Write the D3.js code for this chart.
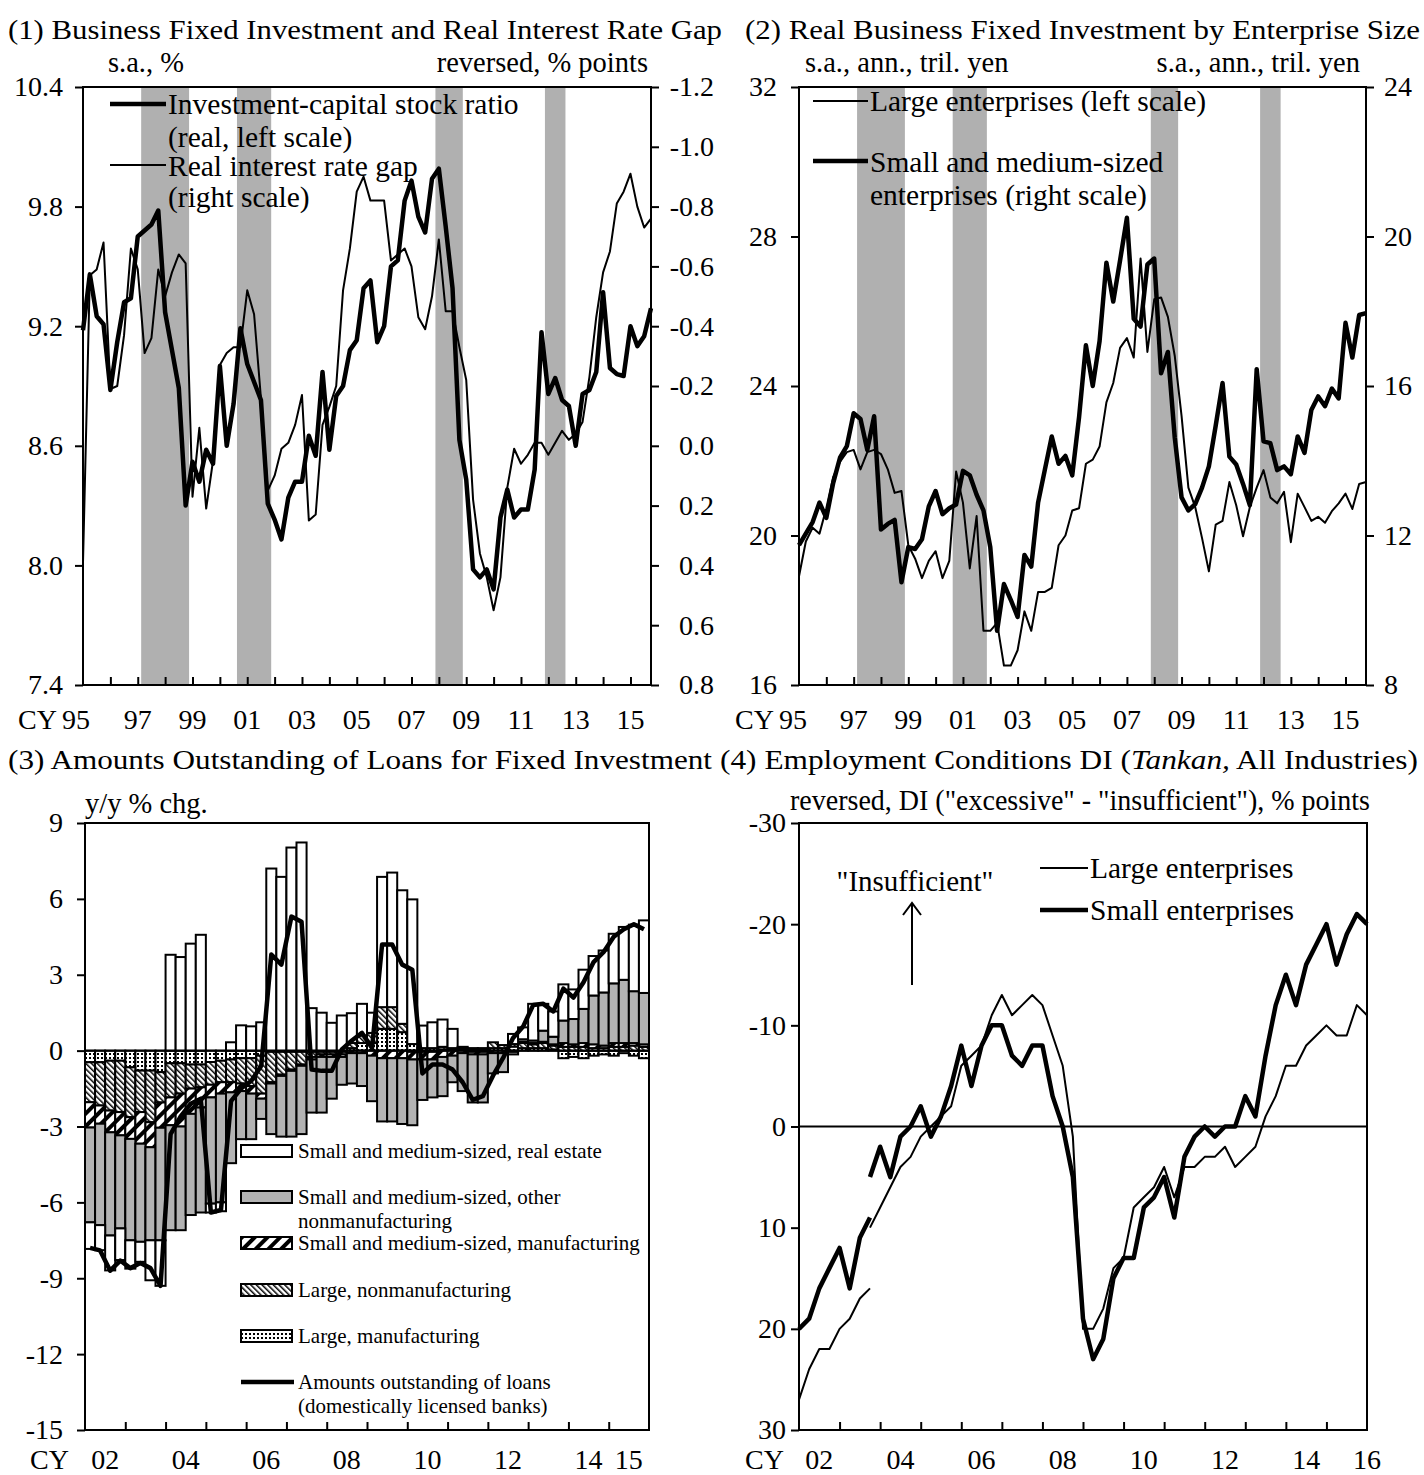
<!DOCTYPE html>
<html><head><meta charset="utf-8">
<script src="https://d3js.org/d3.v7.min.js"></script>
<style>
  body { margin: 0; background: #fff; }
  svg { font-family: "Liberation Serif", "Times New Roman", serif; }
</style>
</head>
<body>
<div id="chart"></div>
<script>
// ---------------- data ----------------
// (1) quarterly, 1995Q1 .. 2015Q4
var invCapRatio = [9.18,9.46,9.25,9.21,8.88,9.12,9.32,9.34,9.65,9.68,
  9.71,9.78,9.27,9.08,8.89,8.30,8.52,8.42,8.58,8.51,
  9.00,8.60,8.81,9.19,9.01,8.92,8.83,8.31,8.23,8.13,
  8.34,8.42,8.42,8.65,8.55,8.97,8.58,8.85,8.90,9.08,
  9.13,9.39,9.43,9.12,9.20,9.50,9.53,9.83,9.93,9.75,
  9.67,9.94,9.99,9.70,9.39,8.63,8.43,7.98,7.94,7.98,
  7.88,8.24,8.38,8.24,8.28,8.28,8.48,9.17,8.86,8.94,
  8.83,8.80,8.60,8.86,8.88,8.97,9.37,8.99,8.96,8.95,
  9.20,9.10,9.15,9.29];
var rateGap = [0.39,-0.57,-0.59,-0.68,-0.19,-0.20,-0.37,-0.66,-0.59,-0.31,
  -0.36,-0.59,-0.50,-0.58,-0.64,-0.61,0.17,-0.06,0.21,0.05,
  -0.27,-0.31,-0.33,-0.33,-0.52,-0.44,-0.16,0.15,0.10,0.01,
  -0.01,-0.07,-0.17,0.25,0.23,-0.07,-0.13,-0.20,-0.52,-0.66,
  -0.85,-0.90,-0.82,-0.82,-0.82,-0.62,-0.64,-0.66,-0.60,-0.43,
  -0.39,-0.50,-0.69,-0.45,-0.45,-0.33,-0.22,0.18,0.36,0.44,
  0.55,0.44,0.14,0.01,0.06,0.03,-0.01,-0.01,0.03,-0.01,
  -0.05,-0.02,-0.04,-0.08,-0.23,-0.43,-0.58,-0.65,-0.81,-0.85,
  -0.91,-0.80,-0.73,-0.76];

// (2) quarterly, 1995Q1 .. 2015Q4
var largeInv = [18.91,19.84,20.21,20.05,20.73,21.56,21.97,22.23,22.29,21.77,
  22.23,22.29,22.18,21.77,21.14,21.19,19.74,19.38,18.86,19.32,
  19.58,18.86,19.32,21.71,20.88,19.12,20.52,17.45,17.45,17.66,
  16.52,16.52,16.93,17.97,17.45,18.49,18.49,18.60,19.74,20.00,
  20.67,20.73,21.92,22.03,22.38,23.56,24.08,25.02,25.28,24.76,
  27.41,24.91,26.32,26.37,25.85,24.81,23.20,21.28,20.76,19.93,
  19.04,20.29,20.39,21.43,20.81,19.98,20.76,21.28,21.75,21.02,
  20.86,21.17,19.82,21.12,20.76,20.39,20.50,20.34,20.65,20.86,
  21.12,20.71,21.38,21.43];
var smeInv = [11.74,12.05,12.36,12.88,12.47,13.40,14.08,14.39,15.27,15.12,
  14.29,15.19,12.16,12.31,12.42,10.75,11.69,11.64,11.90,12.78,
  13.19,12.57,12.73,12.83,13.73,13.61,13.09,12.67,11.69,9.45,
  10.70,10.28,9.82,11.48,11.17,12.88,13.77,14.65,13.92,14.13,
  13.61,15.17,17.09,16.00,17.20,19.30,18.26,19.36,20.50,17.80,
  17.59,19.25,19.41,16.34,16.91,14.63,13.02,12.67,12.84,13.28,
  13.85,14.94,16.08,14.11,13.90,13.38,12.81,16.45,14.52,14.47,
  13.75,13.85,13.64,14.65,14.21,15.36,15.72,15.46,15.93,15.67,
  17.69,16.76,17.90,17.95];
var recessions = [[1997.125, 1998.875], [2000.625, 2001.875], [2007.875, 2008.875], [2011.875, 2012.625]];

// (3) quarterly, 2002Q1 .. 2015Q4, contributions (% points)
var lgMfg = [-0.46,-0.46,-0.40,-0.40,-0.66,-0.79,-0.79,-0.85,-0.50,-0.50,-0.55,-0.55,-0.45,-0.40,
  -0.35,-0.30,-0.30,-0.20,-0.05,-0.05,-0.05,-0.05,-0.05,-0.05,-0.05,-0.05,0.10,0.30,
  0.30,0.86,0.86,0.73,0.26,0.10,0.10,0.05,0.05,0.05,0.05,0.05,0.10,0.10,0.16,0.10,
  0.10,0.10,0.05,-0.30,-0.25,-0.30,-0.20,-0.15,-0.20,-0.10,-0.20,-0.30];
var lgNonMfg = [-1.58,-1.71,-1.97,-2.03,-1.97,-1.64,-2.04,-1.20,-1.35,-1.20,-0.95,-0.90,-0.90,-0.85,
  -0.90,-1.00,-1.10,-1.50,-1.20,-0.90,-0.70,-0.50,-0.20,-0.10,-0.10,-0.10,0.20,0.30,
  0.40,0.86,0.86,0.33,-0.05,-0.05,-0.05,0.10,0.05,0.05,-0.05,-0.05,0.23,0.12,0.10,0.20,
  0.15,0.20,0.15,0.15,0.15,0.15,0.10,0.10,0.15,0.15,0.20,0.15];
var smMfg = [-1.00,-0.72,-0.86,-0.92,-0.86,-1.25,-0.99,-1.00,-1.10,-1.30,-1.00,-0.80,-0.50,-0.45,
  -0.40,-0.30,-0.30,-0.20,-0.05,-0.05,-0.05,-0.05,-0.10,-0.10,-0.10,-0.10,-0.10,-0.10,
  -0.20,-0.30,-0.30,-0.30,-0.30,-0.30,-0.30,-0.25,-0.20,-0.10,-0.10,-0.10,-0.10,-0.10,-0.05,0.05,
  0.05,0.05,0.05,0.15,0.10,0.15,0.15,0.10,0.15,0.15,0.10,0.10];
var smOtherNonMfg = [-3.75,-4.01,-4.08,-3.68,-4.01,-3.88,-3.68,-4.45,-4.15,-4.10,-4.00,-4.15,-4.20,-4.30,
  -2.80,-1.90,-1.80,-0.80,-2.00,-2.40,-2.60,-2.70,-2.10,-2.20,-1.65,-1.10,-1.20,-1.30,
  -1.80,-2.50,-2.50,-2.60,-2.60,-1.60,-1.50,-1.55,-1.05,-1.50,-1.90,-1.90,-0.80,-0.75,-0.10,0.10,
  0.10,0.44,0.30,0.89,1.00,1.35,1.93,2.10,2.36,2.50,2.05,2.03];
var smRealEstate = [-1.05,-0.99,-1.38,-1.25,-1.12,-0.79,-1.58,-1.80,3.79,3.70,4.23,4.58,-0.35,-0.35,
  0.33,1.00,0.96,1.12,7.20,6.87,8.03,8.23,1.68,1.50,1.10,1.39,1.18,1.25,
  0.80,5.15,5.32,5.28,5.72,0.89,1.02,1.08,0.76,0.05,0.05,0.05,0.00,0.00,0.40,0.47,
  1.45,1.06,1.00,1.43,1.17,1.55,1.56,1.66,1.96,2.09,2.63,2.87];
var loansTotal = [-7.8,-7.9,-8.7,-8.3,-8.6,-8.4,-8.6,-9.3,-3.3,-2.6,-2.1,-1.9,-6.4,-6.3,
  -2.0,-1.5,-1.2,-0.6,3.8,3.4,5.3,5.1,-0.75,-0.8,-0.8,0.05,0.4,0.7,
  0.1,4.2,4.2,3.4,3.2,-0.9,-0.55,-0.55,-0.75,-1.25,-1.95,-1.8,-1.0,-0.3,0.5,0.95,
  1.8,1.85,1.55,2.45,2.1,2.7,3.5,3.9,4.5,4.8,5.0,4.8];

// (4) Tankan employment DI, quarterly; old basis 2002Q1..2003Q4, new basis 2003Q4..2016Q1
var largeOld = [27,24,22,22,20,19,17,16];
var smallOld = [20,19,16,14,12,16,11,9];
var largeNew = [10, 8,6,4,3, 1,0,-1,-2, -6,-7,-8,-11, -13,-11,-12,-13, -12,-9,-6,1,
  20,20,18,14, 13,8,7,6, 4,7,4,4, 3,3,2,4, 3,2,-1,-3, -6,-6,-8,-9, -10,-9,-9,-12, -11];
var smallNew = [5, 2,5,1,0, -2,1,-1,-4, -8,-4,-8,-10, -10,-7,-6,-8, -8,-3,0,5,
  19,23,21,15, 13,13,8,7, 5,9,3,1, 0,1,0,0, -3,-1,-7,-12, -15,-12,-16,-18, -20,-16,-19,-21, -20];

// tick labels
var p1LeftTicks = [7.4, 8.0, 8.6, 9.2, 9.8, 10.4];
var p1RightTicks = [-1.2, -1.0, -0.8, -0.6, -0.4, -0.2, 0.0, 0.2, 0.4, 0.6, 0.8];
var p2LeftTicks = [16, 20, 24, 28, 32];
var p2RightTicks = [8, 12, 16, 20, 24];
var p3Ticks = [-15, -12, -9, -6, -3, 0, 3, 6, 9];
var p4Ticks = [-30, -20, -10, 0, 10, 20, 30];
var yearLabels95 = ["95","97","99","01","03","05","07","09","11","13","15"];
var yearLabels02 = ["02","04","06","08","10","12","14","15"];
var yearLabels02b = ["02","04","06","08","10","12","14","16"];

// ---------------- drawing ----------------
var FONT = '"Liberation Serif", "Times New Roman", serif';
var svg = d3.select("#chart").append("svg").attr("width", 1424).attr("height", 1475);
var plain = function (d) { return String(d); };

var defs = svg.append("defs");
var pS = defs.append("pattern").attr("id", "pStripe").attr("patternUnits", "userSpaceOnUse")
  .attr("width", 9).attr("height", 9).attr("patternTransform", "rotate(45)");
pS.append("rect").attr("width", 9).attr("height", 9).attr("fill", "#fff");
pS.append("rect").attr("width", 4).attr("height", 9).attr("fill", "#000");
var pH = defs.append("pattern").attr("id", "pHatch").attr("patternUnits", "userSpaceOnUse")
  .attr("width", 4).attr("height", 4).attr("patternTransform", "rotate(-45)");
pH.append("rect").attr("width", 4).attr("height", 4).attr("fill", "#fff");
pH.append("rect").attr("width", 1.5).attr("height", 4).attr("fill", "#000");
var pD = defs.append("pattern").attr("id", "pDots").attr("patternUnits", "userSpaceOnUse")
  .attr("width", 4).attr("height", 4);
pD.append("rect").attr("width", 4).attr("height", 4).attr("fill", "#fff");
pD.append("rect").attr("x", 1).attr("y", 1).attr("width", 2).attr("height", 2).attr("fill", "#000");

function txt(x, y, s, size, anchor) {
  return svg.append("text").attr("x", x).attr("y", y).attr("font-size", size)
    .attr("text-anchor", anchor || "start").attr("fill", "#000").text(s);
}

function styleAxis(a) {
  a.select(".domain").remove();
  a.selectAll("line").attr("stroke", "#000").attr("stroke-width", 2);
  a.selectAll("text").attr("font-family", FONT).attr("font-size", 28).attr("fill", "#000");
  return a;
}

function frame(L, R, T, B) {
  svg.append("rect").attr("x", L).attr("y", T).attr("width", R - L).attr("height", B - T)
    .attr("fill", "none").attr("stroke", "#000").attr("stroke-width", 2);
}

function yearTicks(x, B, from, to) {
  var vals = d3.range(from, to + 1);
  var a = svg.append("g").attr("transform", "translate(0," + B + ")")
    .call(d3.axisBottom(x).tickValues(vals).tickSize(-8).tickFormat(""));
  styleAxis(a);
}

var qLine = function (x, y, t0) {
  return d3.line().x(function (d, i) { return x(t0 + i * 0.25); }).y(function (d) { return y(d); });
};

var SUB = 28.5, LEG = 29.5;

// ---------- panel 1 ----------
(function () {
  var L = 83, R = 651, T = 87, B = 685;
  var x = d3.scaleLinear().domain([1995, 2015.75]).range([L, R]);
  var yL = d3.scaleLinear().domain([7.4, 10.4]).range([B, T]);
  var yR = d3.scaleLinear().domain([0.8, -1.2]).range([B, T]);

  svg.selectAll(".band1").data(recessions).enter().append("rect")
    .attr("x", function (d) { return x(d[0]); }).attr("width", function (d) { return x(d[1]) - x(d[0]); })
    .attr("y", T).attr("height", B - T).attr("fill", "#b0b0b0");

  svg.append("path").datum(rateGap).attr("d", qLine(x, yR, 1995)).attr("fill", "none")
    .attr("stroke", "#000").attr("stroke-width", 2).attr("stroke-linejoin", "round");
  svg.append("path").datum(invCapRatio).attr("d", qLine(x, yL, 1995)).attr("fill", "none")
    .attr("stroke", "#000").attr("stroke-width", 4.5).attr("stroke-linejoin", "round");

  frame(L, R, T, B);
  styleAxis(svg.append("g").attr("transform", "translate(" + L + ",0)")
    .call(d3.axisLeft(yL).tickValues(p1LeftTicks).tickFormat(function (d) { return d.toFixed(1); }).tickSize(8).tickPadding(12)));
  var ar = styleAxis(svg.append("g").attr("transform", "translate(" + R + ",0)")
    .call(d3.axisRight(yR).tickValues(p1RightTicks).tickFormat(function (d) { return d.toFixed(1); }).tickSize(8)));
  ar.selectAll("text").attr("text-anchor", "end").attr("x", 714 - R);
  yearTicks(x, B, 1996, 2015);

  txt(18, 729, "CY", 28);
  yearLabels95.forEach(function (s, k) {
    var yr = 1995 + 2 * k;
    if (k === 0) txt(62, 729, s, 28);
    else txt(x(yr), 729, s, 28, "middle");
  });

  txt(8, 39, "(1) Business Fixed Investment and Real Interest Rate Gap", 28).attr("textLength", 714).attr("lengthAdjust", "spacingAndGlyphs");
  txt(108, 72, "s.a., %", SUB);
  txt(648, 72, "reversed, % points", SUB, "end");

  svg.append("line").attr("x1", 110).attr("x2", 166).attr("y1", 104).attr("y2", 104).attr("stroke", "#000").attr("stroke-width", 4.5);
  txt(168, 114, "Investment-capital stock ratio", LEG);
  txt(168, 147, "(real, left scale)", LEG);
  svg.append("line").attr("x1", 110).attr("x2", 166).attr("y1", 165).attr("y2", 165).attr("stroke", "#000").attr("stroke-width", 2);
  txt(168, 176, "Real interest rate gap", LEG);
  txt(168, 207, "(right scale)", LEG);
})();

// ---------- panel 2 ----------
(function () {
  var L = 799, R = 1366, T = 87, B = 685;
  var x = d3.scaleLinear().domain([1995, 2015.75]).range([L, R]);
  var yL = d3.scaleLinear().domain([16, 32]).range([B, T]);
  var yR = d3.scaleLinear().domain([8, 24]).range([B, T]);

  svg.selectAll(".band2").data(recessions).enter().append("rect")
    .attr("x", function (d) { return x(d[0]); }).attr("width", function (d) { return x(d[1]) - x(d[0]); })
    .attr("y", T).attr("height", B - T).attr("fill", "#b0b0b0");

  svg.append("path").datum(largeInv).attr("d", qLine(x, yL, 1995)).attr("fill", "none")
    .attr("stroke", "#000").attr("stroke-width", 2).attr("stroke-linejoin", "round");
  svg.append("path").datum(smeInv).attr("d", qLine(x, yR, 1995)).attr("fill", "none")
    .attr("stroke", "#000").attr("stroke-width", 4.5).attr("stroke-linejoin", "round");

  frame(L, R, T, B);
  styleAxis(svg.append("g").attr("transform", "translate(" + L + ",0)")
    .call(d3.axisLeft(yL).tickValues(p2LeftTicks).tickFormat(plain).tickSize(8).tickPadding(14)));
  styleAxis(svg.append("g").attr("transform", "translate(" + R + ",0)")
    .call(d3.axisRight(yR).tickValues(p2RightTicks).tickFormat(plain).tickSize(8).tickPadding(10)));
  yearTicks(x, B, 1996, 2015);

  txt(735, 729, "CY", 28);
  yearLabels95.forEach(function (s, k) {
    var yr = 1995 + 2 * k;
    if (k === 0) txt(779, 729, s, 28);
    else txt(x(yr), 729, s, 28, "middle");
  });

  txt(745, 39, "(2) Real Business Fixed Investment by Enterprise Size", 28).attr("textLength", 675).attr("lengthAdjust", "spacingAndGlyphs");
  txt(805, 72, "s.a., ann., tril. yen", SUB);
  txt(1360, 72, "s.a., ann., tril. yen", SUB, "end");

  svg.append("line").attr("x1", 813).attr("x2", 868).attr("y1", 101).attr("y2", 101).attr("stroke", "#000").attr("stroke-width", 2);
  txt(870, 111, "Large enterprises (left scale)", LEG);
  svg.append("line").attr("x1", 813).attr("x2", 868).attr("y1", 161).attr("y2", 161).attr("stroke", "#000").attr("stroke-width", 4.5);
  txt(870, 172, "Small and medium-sized", LEG);
  txt(870, 205, "enterprises (right scale)", LEG);
})();

// ---------- panel 3 ----------
(function () {
  var L = 85, R = 649, T = 823, B = 1430;
  var n = loansTotal.length;
  var xb = d3.scaleBand().domain(d3.range(n)).range([L, R]).padding(0);
  var y = d3.scaleLinear().domain([-15, 9]).range([B, T]);
  var xt = d3.scaleLinear().domain([2002, 2016]).range([L, R]);

  var rows = d3.range(n).map(function (i) {
    return { i: i, lmf: lgMfg[i], lnm: lgNonMfg[i], smf: smMfg[i], onm: smOtherNonMfg[i], re: smRealEstate[i] };
  });
  var keys = ["lmf", "lnm", "smf", "onm", "re"];
  var fills = { lmf: "url(#pDots)", lnm: "url(#pHatch)", smf: "url(#pStripe)", onm: "#b3b3b3", re: "#fff" };
  var series = d3.stack().keys(keys).offset(d3.stackOffsetDiverging)(rows);

  series.forEach(function (s) {
    svg.append("g").selectAll("rect").data(s.filter(function (d) { return d[0] !== d[1]; })).enter().append("rect")
      .attr("x", function (d) { return xb(d.data.i); })
      .attr("width", xb.bandwidth())
      .attr("y", function (d) { return y(Math.max(d[0], d[1])); })
      .attr("height", function (d) { return Math.abs(y(d[0]) - y(d[1])); })
      .attr("fill", fills[s.key]).attr("stroke", "#000").attr("stroke-width", 2);
  });

  svg.append("line").attr("x1", L).attr("x2", R).attr("y1", y(0)).attr("y2", y(0)).attr("stroke", "#000").attr("stroke-width", 2);

  svg.append("path").datum(loansTotal)
    .attr("d", d3.line().x(function (d, i) { return xb(i) + xb.bandwidth() / 2; }).y(function (d) { return y(d); }))
    .attr("fill", "none").attr("stroke", "#000").attr("stroke-width", 4.5).attr("stroke-linejoin", "round");

  frame(L, R, T, B);
  styleAxis(svg.append("g").attr("transform", "translate(" + L + ",0)")
    .call(d3.axisLeft(y).tickValues(p3Ticks).tickFormat(plain).tickSize(8).tickPadding(14)));
  yearTicks(xt, B, 2003, 2015);

  txt(30, 1469, "CY", 28);
  yearLabels02.forEach(function (s, k) {
    var yr = k < 7 ? 2002 + 2 * k : 2015;
    txt(xt(yr + 0.5), 1469, s, 28, "middle");
  });

  txt(8, 769, "(3) Amounts Outstanding of Loans for Fixed Investment", 28).attr("textLength", 704).attr("lengthAdjust", "spacingAndGlyphs");
  txt(85, 813, "y/y % chg.", SUB);

  var leg = [
    { f: "#fff", t: ["Small and medium-sized, real estate"], y: 1151 },
    { f: "#b3b3b3", t: ["Small and medium-sized, other", "nonmanufacturing"], y: 1197 },
    { f: "url(#pStripe)", t: ["Small and medium-sized, manufacturing"], y: 1243 },
    { f: "url(#pHatch)", t: ["Large, nonmanufacturing"], y: 1290 },
    { f: "url(#pDots)", t: ["Large, manufacturing"], y: 1336 },
    { f: null, t: ["Amounts outstanding of loans", "(domestically licensed banks)"], y: 1382 }
  ];
  leg.forEach(function (e) {
    if (e.f) {
      svg.append("rect").attr("x", 241).attr("y", e.y - 6).attr("width", 51).attr("height", 12)
        .attr("fill", e.f).attr("stroke", "#000").attr("stroke-width", 2);
    } else {
      svg.append("line").attr("x1", 241).attr("x2", 294).attr("y1", e.y).attr("y2", e.y).attr("stroke", "#000").attr("stroke-width", 4.5);
    }
    e.t.forEach(function (s, j) { txt(298, e.y + 7 + j * 24, s, 21); });
  });
})();

// ---------- panel 4 ----------
(function () {
  var L = 799, R = 1367, T = 823, B = 1430;
  var x = d3.scaleLinear().domain([2002, 2016]).range([L, R]);
  var y = d3.scaleLinear().domain([30, -30]).range([B, T]);

  svg.append("line").attr("x1", L).attr("x2", R).attr("y1", y(0)).attr("y2", y(0)).attr("stroke", "#000").attr("stroke-width", 2);

  [[largeOld, 2002, 2], [largeNew, 2003.75, 2], [smallOld, 2002, 4.5], [smallNew, 2003.75, 4.5]].forEach(function (s) {
    svg.append("path").datum(s[0]).attr("d", qLine(x, y, s[1])).attr("fill", "none")
      .attr("stroke", "#000").attr("stroke-width", s[2]).attr("stroke-linejoin", "round");
  });

  frame(L, R, T, B);
  styleAxis(svg.append("g").attr("transform", "translate(" + L + ",0)")
    .call(d3.axisLeft(y).tickValues(p4Ticks).tickFormat(plain).tickSize(8).tickPadding(5)));
  yearTicks(x, B, 2003, 2015);

  txt(745, 1469, "CY", 28);
  yearLabels02b.forEach(function (s, k) {
    var yr = k < 7 ? 2002 + 2 * k + 0.5 : 2016;
    txt(x(yr), 1469, s, 28, "middle");
  });

  var t4 = txt(720, 769, "(4) Employment Conditions DI (", 28);
  t4.append("tspan").attr("font-style", "italic").text("Tankan,");
  t4.append("tspan").text(" All Industries)");
  t4.attr("textLength", 698).attr("lengthAdjust", "spacingAndGlyphs");
  txt(790, 810, "reversed, DI (\"excessive\" - \"insufficient\"), % points", SUB).attr("textLength", 580).attr("lengthAdjust", "spacingAndGlyphs");

  txt(915, 891, "\"Insufficient\"", 29, "middle");
  svg.append("line").attr("x1", 912).attr("x2", 912).attr("y1", 985).attr("y2", 903).attr("stroke", "#000").attr("stroke-width", 2);
  svg.append("path").attr("d", "M903,915 L912,903 L921,915").attr("fill", "none").attr("stroke", "#000").attr("stroke-width", 2);

  svg.append("line").attr("x1", 1040).attr("x2", 1088).attr("y1", 868).attr("y2", 868).attr("stroke", "#000").attr("stroke-width", 2);
  txt(1090, 878, "Large enterprises", LEG);
  svg.append("line").attr("x1", 1040).attr("x2", 1088).attr("y1", 910).attr("y2", 910).attr("stroke", "#000").attr("stroke-width", 4.5);
  txt(1090, 920, "Small enterprises", LEG);
})();
</script>
</body></html>
